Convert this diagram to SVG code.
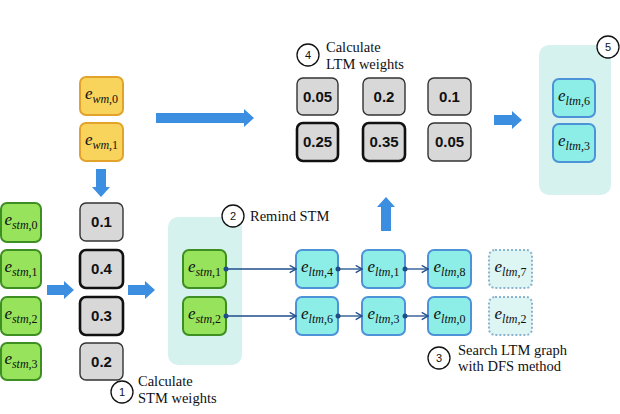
<svg xmlns="http://www.w3.org/2000/svg" width="620" height="414" viewBox="0 0 620 414">
<defs>
<style>
.yl{fill:#F8D45C;stroke:#E3A32A;stroke-width:2}
.gr{fill:#97E35C;stroke:#3D8F22;stroke-width:2}
.lt{fill:#8DEEE8;stroke:#4C93D8;stroke-width:2}
.ld{fill:#DDF5F3;stroke:#8AB5D0;stroke-width:2;stroke-dasharray:2 2}
.wt{fill:#D8D8D8;stroke:#333;stroke-width:1.4}
.wtb{fill:#D8D8D8;stroke:#111;stroke-width:2.6}
.cont{fill:#D6F2EE}
.num{font-family:"Liberation Sans",Arial,sans-serif;font-weight:bold;font-size:15px;text-anchor:middle;fill:#111}
.e{font-family:"Liberation Serif","Times New Roman",serif;font-style:italic;font-size:17px;text-anchor:middle;fill:#111}
.sub{font-size:12px}
.up{font-style:normal}
.lbl{font-family:"Liberation Serif","Times New Roman",Times,serif;font-size:14.5px;fill:#111}
.circ{fill:#fff;stroke:#111;stroke-width:1.3}
.cn{font-family:"Liberation Sans",Arial,sans-serif;font-size:11px;text-anchor:middle;fill:#111}
.arw{fill:#3B8EE0}
.conn{stroke:#1E4E8A;stroke-width:1.3;fill:none;marker-start:url(#dot);marker-end:url(#chev)}
</style>
<marker id="dot" viewBox="0 0 6 6" refX="3" refY="3" markerWidth="6" markerHeight="6" markerUnits="userSpaceOnUse"><circle cx="3" cy="3" r="2.5" fill="#1E4E8A"/></marker>
<marker id="chev" viewBox="0 0 10 10" refX="9" refY="5" markerWidth="9" markerHeight="9" markerUnits="userSpaceOnUse" orient="auto"><path d="M2,1 L9,5 L2,9" fill="none" stroke="#1E4E8A" stroke-width="1.5"/></marker>
</defs>
<rect width="620" height="414" fill="#fff"/>

<!-- containers -->
<rect id="stm-container" class="cont" x="168" y="217" width="74" height="148" rx="10"/>
<rect id="result-container" class="cont" x="539" y="45" width="72" height="150" rx="10"/>

<!-- block arrows -->
<g id="block-arrows">
<polygon class="arw" points="96,169 106,169 106,187 110,187 101,197 92,187 96,187"/>
<polygon class="arw" points="47,285 64,285 64,281 74,290 64,299 64,295 47,295"/>
<polygon class="arw" points="128,285 145,285 145,281 155,290 145,299 145,295 128,295"/>
<polygon class="arw" points="156,113 244,113 244,109 254,118 244,127 244,123 156,123"/>
<polygon class="arw" points="381,231 391,231 391,207 395,207 386,197 377,207 381,207"/>
<polygon class="arw" points="494,115 512,115 512,111 522,120 512,129 512,125 494,125"/>
</g>

<!-- WM nodes -->
<g id="wm0"><rect class="yl" x="80" y="77" width="43" height="38" rx="6"/><text class="e" x="101.5" y="99">e<tspan class="sub" dy="4">wm<tspan class="up">,0</tspan></tspan></text></g>
<g id="wm1"><rect class="yl" x="80" y="123" width="43" height="38" rx="6"/><text class="e" x="101.5" y="145">e<tspan class="sub" dy="4">wm<tspan class="up">,1</tspan></tspan></text></g>

<!-- STM nodes -->
<g id="stm0"><rect class="gr" x="1" y="203" width="40" height="39" rx="6"/><text class="e" x="21" y="225">e<tspan class="sub" dy="4">stm<tspan class="up">,0</tspan></tspan></text></g>
<g id="stm1"><rect class="gr" x="1" y="250" width="40" height="38" rx="6"/><text class="e" x="21" y="272">e<tspan class="sub" dy="4">stm<tspan class="up">,1</tspan></tspan></text></g>
<g id="stm2"><rect class="gr" x="1" y="297" width="40" height="38" rx="6"/><text class="e" x="21" y="319">e<tspan class="sub" dy="4">stm<tspan class="up">,2</tspan></tspan></text></g>
<g id="stm3"><rect class="gr" x="1" y="343" width="40" height="37" rx="6"/><text class="e" x="21" y="364">e<tspan class="sub" dy="4">stm<tspan class="up">,3</tspan></tspan></text></g>

<!-- STM weights -->
<g id="w-stm0"><rect class="wt" x="80" y="203" width="43" height="38" rx="6"/><text class="num" x="101.5" y="227">0.1</text></g>
<g id="w-stm1"><rect class="wtb" x="80" y="250" width="43" height="38" rx="6"/><text class="num" x="101.5" y="274">0.4</text></g>
<g id="w-stm2"><rect class="wtb" x="80" y="297" width="43" height="38" rx="6"/><text class="num" x="101.5" y="321">0.3</text></g>
<g id="w-stm3"><rect class="wt" x="80" y="343" width="43" height="37" rx="6"/><text class="num" x="101.5" y="367">0.2</text></g>

<!-- reminded STM -->
<g id="r-stm1"><rect class="gr" x="183" y="250" width="43" height="38" rx="6"/><text class="e" x="204.5" y="272">e<tspan class="sub" dy="4">stm<tspan class="up">,1</tspan></tspan></text></g>
<g id="r-stm2"><rect class="gr" x="183" y="297" width="43" height="38" rx="6"/><text class="e" x="204.5" y="319">e<tspan class="sub" dy="4">stm<tspan class="up">,2</tspan></tspan></text></g>

<!-- LTM nodes -->
<g id="ltm4"><rect class="lt" x="296" y="250" width="42" height="38" rx="6"/><text class="e" x="317" y="272">e<tspan class="sub" dy="4">ltm<tspan class="up">,4</tspan></tspan></text></g>
<g id="ltm1"><rect class="lt" x="362" y="250" width="43" height="38" rx="6"/><text class="e" x="383.5" y="272">e<tspan class="sub" dy="4">ltm<tspan class="up">,1</tspan></tspan></text></g>
<g id="ltm8"><rect class="lt" x="428" y="250" width="43" height="38" rx="6"/><text class="e" x="449.5" y="272">e<tspan class="sub" dy="4">ltm<tspan class="up">,8</tspan></tspan></text></g>
<g id="ltm7"><rect class="ld" x="489" y="250" width="43" height="38" rx="6"/><text class="e" x="510.5" y="272">e<tspan class="sub" dy="4">ltm<tspan class="up">,7</tspan></tspan></text></g>
<g id="ltm6"><rect class="lt" x="296" y="297" width="42" height="38" rx="6"/><text class="e" x="317" y="319">e<tspan class="sub" dy="4">ltm<tspan class="up">,6</tspan></tspan></text></g>
<g id="ltm3"><rect class="lt" x="362" y="297" width="43" height="38" rx="6"/><text class="e" x="383.5" y="319">e<tspan class="sub" dy="4">ltm<tspan class="up">,3</tspan></tspan></text></g>
<g id="ltm0"><rect class="lt" x="428" y="297" width="43" height="38" rx="6"/><text class="e" x="449.5" y="319">e<tspan class="sub" dy="4">ltm<tspan class="up">,0</tspan></tspan></text></g>
<g id="ltm2"><rect class="ld" x="489" y="297" width="43" height="38" rx="6"/><text class="e" x="510.5" y="319">e<tspan class="sub" dy="4">ltm<tspan class="up">,2</tspan></tspan></text></g>

<!-- LTM weights -->
<g id="w-ltm-a"><rect class="wt" x="297" y="78" width="41" height="37" rx="6"/><text class="num" x="317.5" y="102">0.05</text></g>
<g id="w-ltm-b"><rect class="wt" x="363" y="78" width="42" height="37" rx="6"/><text class="num" x="384" y="102">0.2</text></g>
<g id="w-ltm-c"><rect class="wt" x="428" y="78" width="43" height="37" rx="6"/><text class="num" x="449.5" y="102">0.1</text></g>
<g id="w-ltm-d"><rect class="wtb" x="297" y="123" width="41" height="38" rx="6"/><text class="num" x="317.5" y="147">0.25</text></g>
<g id="w-ltm-e"><rect class="wtb" x="363" y="123" width="42" height="38" rx="6"/><text class="num" x="384" y="147">0.35</text></g>
<g id="w-ltm-f"><rect class="wt" x="428" y="123" width="43" height="38" rx="6"/><text class="num" x="449.5" y="147">0.05</text></g>

<!-- result -->
<g id="res-ltm6"><rect class="lt" x="553" y="79" width="42" height="38" rx="6"/><text class="e" x="574" y="101">e<tspan class="sub" dy="4">ltm<tspan class="up">,6</tspan></tspan></text></g>
<g id="res-ltm3"><rect class="lt" x="553" y="124" width="42" height="38" rx="6"/><text class="e" x="574" y="146">e<tspan class="sub" dy="4">ltm<tspan class="up">,3</tspan></tspan></text></g>

<!-- connectors -->
<g id="connectors">
<line class="conn" x1="226" y1="269" x2="296" y2="269"/>
<line class="conn" x1="226" y1="316" x2="296" y2="316"/>
<line class="conn" x1="338" y1="269" x2="362" y2="269"/>
<line class="conn" x1="405" y1="269" x2="428" y2="269"/>
<line class="conn" x1="338" y1="316" x2="362" y2="316"/>
<line class="conn" x1="405" y1="316" x2="428" y2="316"/>
</g>

<!-- step labels -->
<g id="step1"><circle class="circ" cx="122" cy="392" r="11"/><text class="cn" x="122" y="396">1</text><text class="lbl" x="138" y="386">Calculate</text><text class="lbl" x="138" y="403">STM weights</text></g>
<g id="step2"><circle class="circ" cx="233" cy="216" r="11"/><text class="cn" x="233" y="220">2</text><text class="lbl" x="250" y="221">Remind STM</text></g>
<g id="step3"><circle class="circ" cx="439" cy="358" r="11"/><text class="cn" x="439" y="362">3</text><text class="lbl" x="458" y="355">Search LTM graph</text><text class="lbl" x="458" y="371">with DFS method</text></g>
<g id="step4"><circle class="circ" cx="308" cy="55" r="11"/><text class="cn" x="308" y="59">4</text><text class="lbl" x="326" y="52">Calculate</text><text class="lbl" x="326" y="69">LTM weights</text></g>
<g id="step5"><circle class="circ" cx="608" cy="47" r="11"/><text class="cn" x="608" y="51">5</text></g>
</svg>
